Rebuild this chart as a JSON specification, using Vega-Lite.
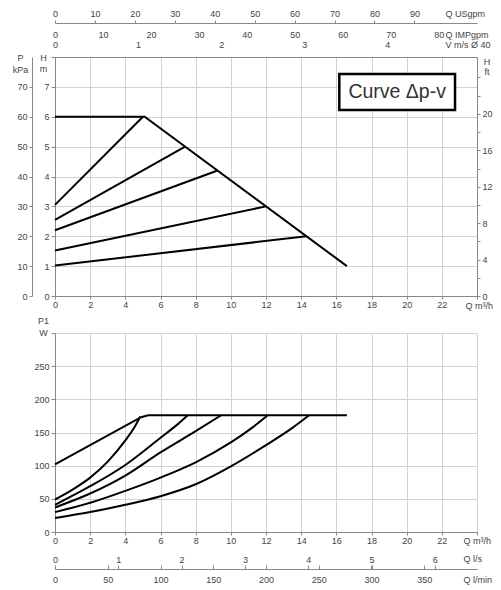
{
  "$schema": "https://vega.github.io/schema/vega-lite/v6.json",
  "padding": {"left": 12, "top": 9, "right": 0, "bottom": 0},
  "background": "white",
  "config": {
    "view": {"stroke": null},
    "axis": {
      "labelFont": "Liberation Sans", "labelFontSize": 9, "labelColor": "#444",
      "titleFont": "Liberation Sans", "titleFontSize": 9, "titleFontWeight": "normal", "titleColor": "#444",
      "domainColor": "#888", "tickColor": "#888", "gridColor": "#d2d2d2",
      "labelOverlap": false, "labelFlush": false, "labelBound": false, "grid": false
    }
  },
  "datasets": {
    "head": [
      {"curve": "max", "q": 0, "h": 6}, {"curve": "max", "q": 5.1, "h": 6}, {"curve": "max", "q": 16.6, "h": 1},
      {"curve": "c1", "q": 0, "h": 3.05}, {"curve": "c1", "q": 5.0, "h": 6},
      {"curve": "c2", "q": 0, "h": 2.55}, {"curve": "c2", "q": 7.4, "h": 5},
      {"curve": "c3", "q": 0, "h": 2.2}, {"curve": "c3", "q": 9.25, "h": 4.2},
      {"curve": "c4", "q": 0, "h": 1.52}, {"curve": "c4", "q": 12.0, "h": 3},
      {"curve": "c5", "q": 0, "h": 1.02}, {"curve": "c5", "q": 14.3, "h": 2}
    ],
    "powermax": [
      {"curve": "max", "q": 0, "w": 102}, {"curve": "max", "q": 4.9, "w": 173}, {"curve": "max", "q": 5.3, "w": 176}, {"curve": "max", "q": 16.6, "w": 176}
    ],
    "power": [
      {"curve": "c1", "q": 0, "w": 49}, {"curve": "c1", "q": 1, "w": 64}, {"curve": "c1", "q": 2, "w": 82}, {"curve": "c1", "q": 3, "w": 106}, {"curve": "c1", "q": 4, "w": 138}, {"curve": "c1", "q": 4.5, "w": 157}, {"curve": "c1", "q": 4.85, "w": 174},
      {"curve": "c2", "q": 0, "w": 41}, {"curve": "c2", "q": 2, "w": 69}, {"curve": "c2", "q": 4, "w": 101}, {"curve": "c2", "q": 6, "w": 142}, {"curve": "c2", "q": 7, "w": 163}, {"curve": "c2", "q": 7.55, "w": 176},
      {"curve": "c3", "q": 0, "w": 37}, {"curve": "c3", "q": 2, "w": 58}, {"curve": "c3", "q": 4, "w": 85}, {"curve": "c3", "q": 6, "w": 120}, {"curve": "c3", "q": 8, "w": 152}, {"curve": "c3", "q": 9.45, "w": 176},
      {"curve": "c4", "q": 0, "w": 30}, {"curve": "c4", "q": 2, "w": 44}, {"curve": "c4", "q": 4, "w": 62}, {"curve": "c4", "q": 6, "w": 82}, {"curve": "c4", "q": 8, "w": 105}, {"curve": "c4", "q": 10, "w": 135}, {"curve": "c4", "q": 11.2, "w": 157}, {"curve": "c4", "q": 12.1, "w": 176},
      {"curve": "c5", "q": 0, "w": 21}, {"curve": "c5", "q": 2, "w": 30}, {"curve": "c5", "q": 4, "w": 41}, {"curve": "c5", "q": 6, "w": 54}, {"curve": "c5", "q": 8, "w": 72}, {"curve": "c5", "q": 10, "w": 99}, {"curve": "c5", "q": 12, "w": 131}, {"curve": "c5", "q": 13.5, "w": 157}, {"curve": "c5", "q": 14.45, "w": 176}
    ],
    "note": [{"label": "Curve Δp-v"}]
  },
  "vconcat": [
    {
      "width": 422, "height": 239,
      "layer": [
        {
          "data": {"name": "head"},
          "mark": {"type": "line", "color": "black", "strokeWidth": 2},
          "encoding": {
            "x": {"field": "q", "type": "quantitative", "scale": {"domain": [0, 24], "nice": false},
              "axis": {"orient": "bottom", "values": [0, 2, 4, 6, 8, 10, 12, 14, 16, 18, 20, 22, 24], "labelExpr": "datum.value > 23 ? '' : datum.label",
                "grid": true, "tickSize": 3, "labelPadding": 1.5, "title": "Q m³/h", "titleX": 410, "titleY": 9, "titleAlign": "left", "titleBaseline": "middle"}},
            "y": {"field": "h", "type": "quantitative", "scale": {"domain": [0, 8], "nice": false},
              "axis": {"values": [0, 1, 2, 3, 4, 5, 6, 7, 8], "labelExpr": "datum.value > 7.5 ? '' : datum.label",
                "grid": true, "tickSize": 4, "labelPadding": 2, "title": ["H", "m"], "titleX": -12, "titleY": -4, "titleAngle": 0, "titleAlign": "center", "titleBaseline": "top", "titleLineHeight": 11}},
            "detail": {"field": "curve"}
          }
        },
        {
          "data": {"name": "note"},
          "mark": {"type": "rect", "fill": "white", "stroke": "black", "strokeWidth": 2.5},
          "encoding": {
            "x": {"datum": 16.17, "type": "quantitative", "scale": {"domain": [0, 24], "nice": false}, "axis": null},
            "x2": {"datum": 22.75},
            "y": {"datum": 7.43, "type": "quantitative", "scale": {"domain": [0, 8], "nice": false}, "axis": null},
            "y2": {"datum": 6.23}
          }
        },
        {
          "data": {"name": "note"},
          "mark": {"type": "text", "font": "Liberation Sans", "fontSize": 19.5, "color": "#333", "align": "center", "baseline": "middle"},
          "encoding": {
            "text": {"field": "label"},
            "x": {"datum": 19.46, "type": "quantitative", "scale": {"domain": [0, 24], "nice": false}, "axis": null},
            "y": {"datum": 6.83, "type": "quantitative", "scale": {"domain": [0, 8], "nice": false}, "axis": null}
          }
        },
        {
          "mark": {"type": "point", "opacity": 0},
          "encoding": {
            "x": {"datum": 0, "type": "quantitative", "scale": {"domain": [0, 105.67], "nice": false},
              "axis": {"orient": "top", "offset": 34, "values": [0, 10, 20, 30, 40, 50, 60, 70, 80, 90], "tickSize": 3, "labelPadding": 2,
                "title": "Q USgpm", "titleX": 390, "titleY": -9.5, "titleAlign": "left", "titleBaseline": "middle"}},
            "y": {"datum": 0, "type": "quantitative", "scale": {"domain": [0, 8], "nice": false}, "axis": null}
          }
        },
        {
          "mark": {"type": "point", "opacity": 0},
          "encoding": {
            "x": {"datum": 0, "type": "quantitative", "scale": {"domain": [0, 87.99], "nice": false},
              "axis": {"orient": "top", "offset": 17, "values": [0, 10, 20, 30, 40, 50, 60, 70, 80], "domain": false, "ticks": false, "labelPadding": 1,
                "title": "Q IMPgpm", "titleX": 390, "titleY": -5.5, "titleAlign": "left", "titleBaseline": "middle"}},
            "y": {"datum": 0, "type": "quantitative", "scale": {"domain": [0, 8], "nice": false}, "axis": null}
          }
        },
        {
          "mark": {"type": "point", "opacity": 0},
          "encoding": {
            "x": {"datum": 0, "type": "quantitative", "scale": {"domain": [0, 5.08], "nice": false},
              "axis": {"orient": "top", "offset": 0, "values": [0, 1, 2, 3, 4], "ticks": false, "labelPadding": 8,
                "title": "V m/s Ø 40", "titleX": 390, "titleY": -12.5, "titleAlign": "left", "titleBaseline": "middle"}},
            "y": {"datum": 0, "type": "quantitative", "scale": {"domain": [0, 8], "nice": false}, "axis": null}
          }
        },
        {
          "mark": {"type": "point", "opacity": 0},
          "encoding": {
            "x": {"datum": 0, "type": "quantitative", "scale": {"domain": [0, 24], "nice": false}, "axis": null},
            "y": {"datum": 0, "type": "quantitative", "scale": {"domain": [0, 80], "nice": false},
              "axis": {"orient": "left", "offset": 23, "values": [0, 10, 20, 30, 40, 50, 60, 70], "tickSize": 3, "labelPadding": 2,
                "title": ["P", "kPa"], "titleX": -12, "titleY": -4, "titleAngle": 0, "titleAlign": "center", "titleBaseline": "top", "titleLineHeight": 12}}
          }
        },
        {
          "mark": {"type": "point", "opacity": 0},
          "encoding": {
            "x": {"datum": 0, "type": "quantitative", "scale": {"domain": [0, 24], "nice": false}, "axis": null},
            "y": {"datum": 0, "type": "quantitative", "scale": {"domain": [0, 26.25], "nice": false},
              "axis": {"orient": "right", "offset": 0, "values": [0, 2, 4, 6, 8, 10, 12, 14, 16, 18, 20, 22, 24], "labelExpr": "datum.value % 4 == 0 && datum.value < 22 ? datum.label : ''",
                "tickSize": 3, "labelPadding": 2, "title": ["H", "ft"], "titleX": 9.5, "titleY": 0, "titleAngle": 0, "titleAlign": "center", "titleBaseline": "top", "titleLineHeight": 10}}
          }
        }
      ],
      "resolve": {"scale": {"x": "independent", "y": "independent"}}
    },
    {
      "width": 422, "height": 199,
      "layer": [
        {
          "data": {"name": "power"},
          "mark": {"type": "line", "color": "black", "strokeWidth": 2, "interpolate": "monotone"},
          "encoding": {
            "x": {"field": "q", "type": "quantitative", "scale": {"domain": [0, 24], "nice": false},
              "axis": {"orient": "bottom", "values": [0, 2, 4, 6, 8, 10, 12, 14, 16, 18, 20, 22, 24], "labelExpr": "datum.value > 23 ? '' : datum.label",
                "grid": true, "tickSize": 3, "labelPadding": 1, "title": "Q m³/h", "titleX": 408, "titleY": 8.5, "titleAlign": "left", "titleBaseline": "middle"}},
            "y": {"field": "w", "type": "quantitative", "scale": {"domain": [0, 300], "nice": false},
              "axis": {"values": [0, 50, 100, 150, 200, 250, 300], "labelExpr": "datum.value > 275 ? '' : datum.label",
                "grid": true, "tickSize": 4, "labelPadding": 2, "title": ["P1", "W"], "titleX": -12, "titleY": -17, "titleAngle": 0, "titleAlign": "center", "titleBaseline": "top", "titleLineHeight": 12}},
            "detail": {"field": "curve"}
          }
        },
        {
          "data": {"name": "powermax"},
          "mark": {"type": "line", "color": "black", "strokeWidth": 2},
          "encoding": {
            "x": {"field": "q", "type": "quantitative", "scale": {"domain": [0, 24], "nice": false}, "axis": null},
            "y": {"field": "w", "type": "quantitative", "scale": {"domain": [0, 300], "nice": false}, "axis": null}
          }
        },
        {
          "mark": {"type": "point", "opacity": 0},
          "encoding": {
            "x": {"datum": 0, "type": "quantitative", "scale": {"domain": [0, 6.6667], "nice": false},
              "axis": {"orient": "bottom", "offset": 37, "values": [0, 1, 2, 3, 4, 5, 6], "domain": false, "tickSize": -4, "labelPadding": -0.5, "labelBaseline": "bottom",
                "title": "Q l/s", "titleX": 408, "titleY": -11, "titleAlign": "left", "titleBaseline": "middle"}},
            "y": {"datum": 0, "type": "quantitative", "scale": {"domain": [0, 300], "nice": false}, "axis": null}
          }
        },
        {
          "mark": {"type": "point", "opacity": 0},
          "encoding": {
            "x": {"datum": 0, "type": "quantitative", "scale": {"domain": [0, 400], "nice": false},
              "axis": {"orient": "bottom", "offset": 37, "values": [0, 50, 100, 150, 200, 250, 300, 350], "tickSize": -4, "labelPadding": 10,
                "title": "Q l/min", "titleX": 408, "titleY": 10.5, "titleAlign": "left", "titleBaseline": "middle"}},
            "y": {"datum": 0, "type": "quantitative", "scale": {"domain": [0, 300], "nice": false}, "axis": null}
          }
        }
      ],
      "resolve": {"scale": {"x": "independent", "y": "independent"}}
    }
  ],
  "spacing": 37,
  "bounds": "flush"
}
